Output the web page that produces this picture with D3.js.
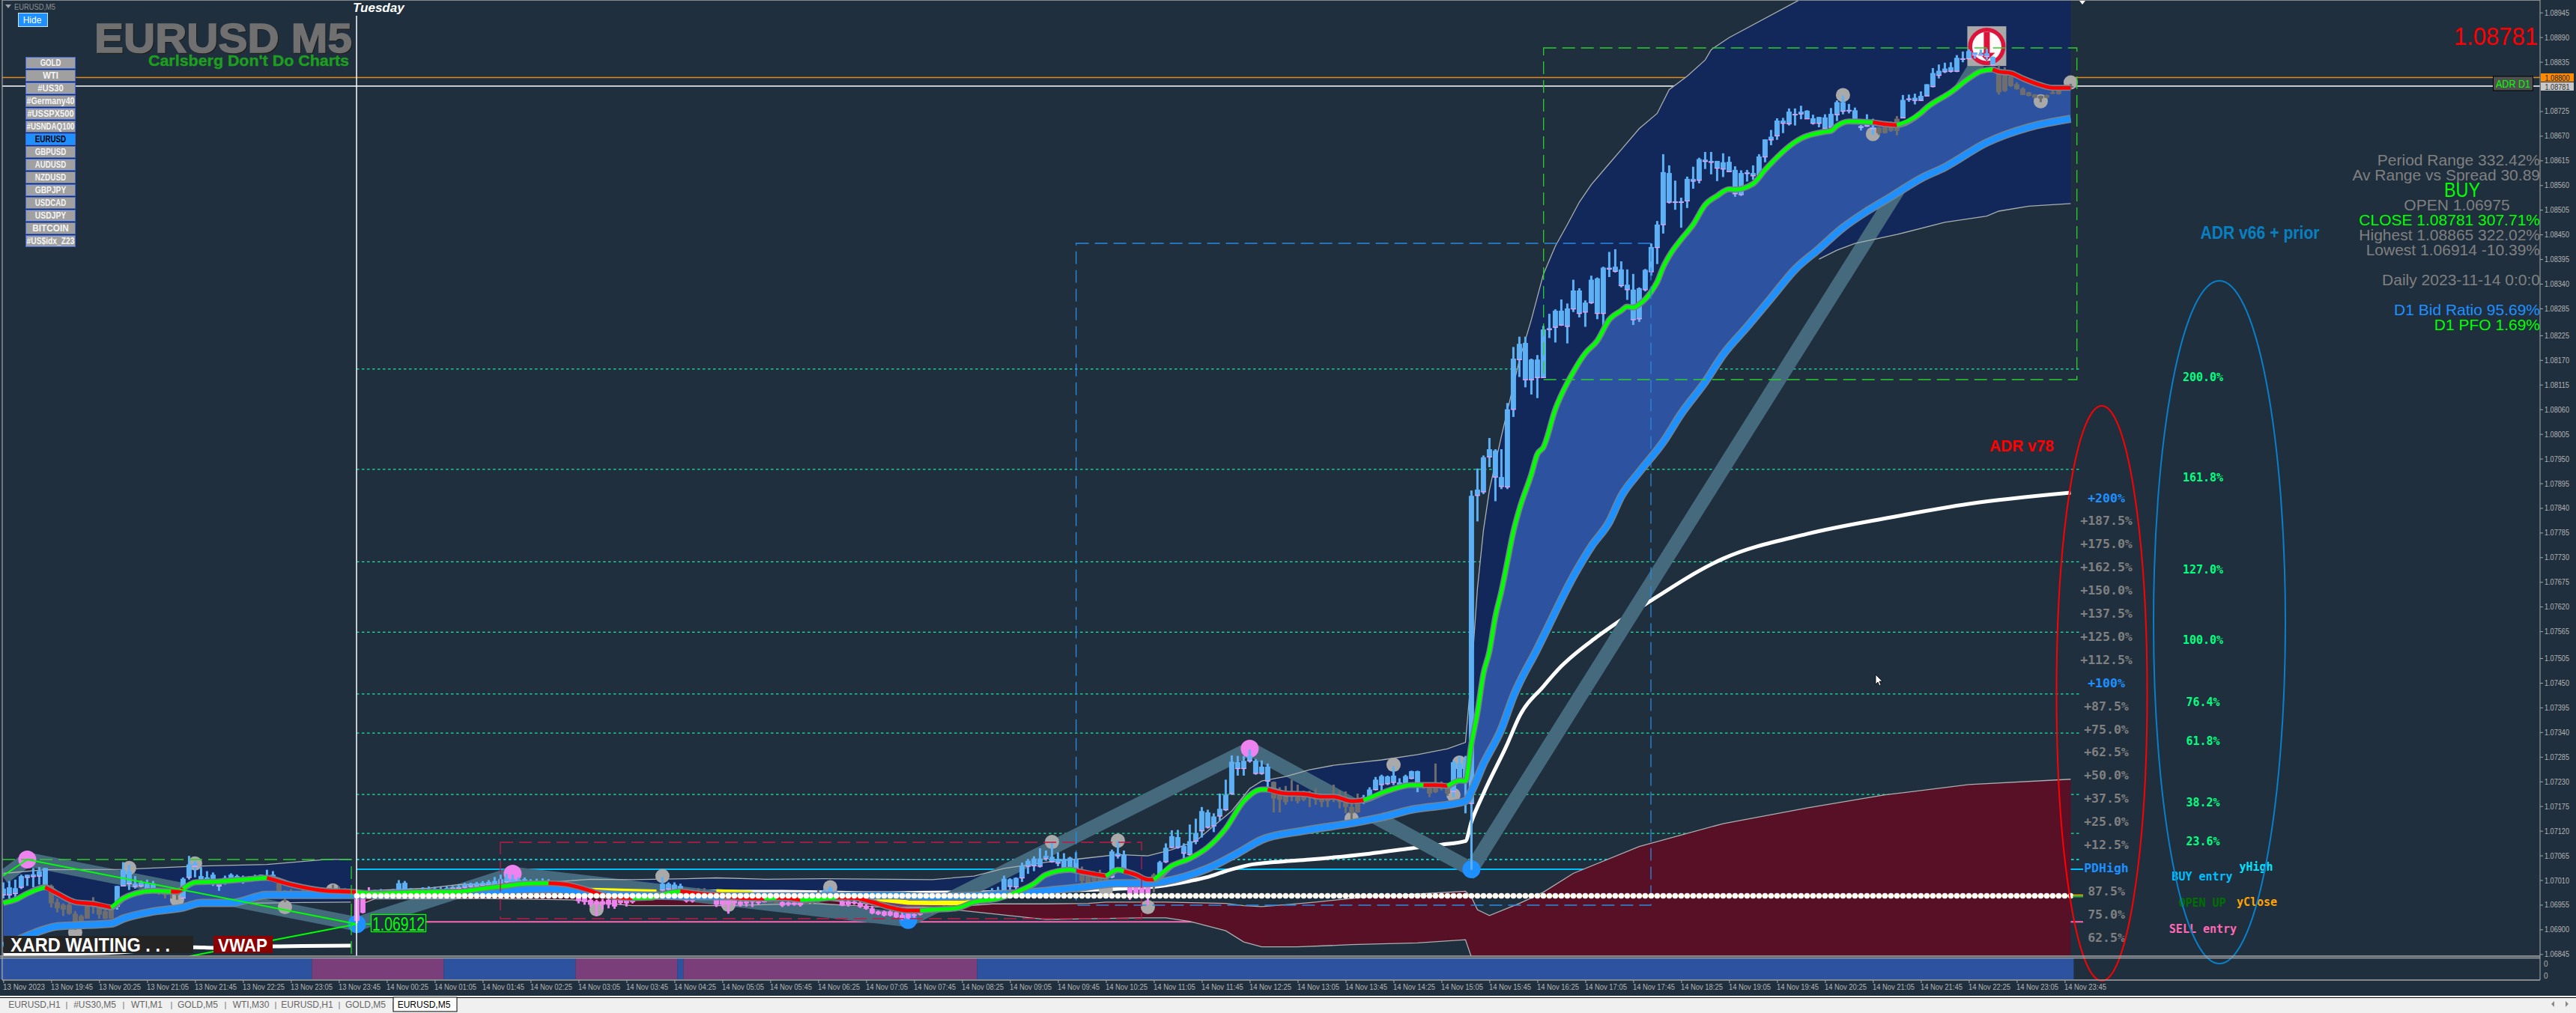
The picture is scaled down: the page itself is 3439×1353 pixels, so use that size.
<!DOCTYPE html>
<html><head><meta charset="utf-8">
<style>html,body{margin:0;padding:0;background:#1f2f3e;overflow:hidden}svg{display:block}text{font-family:"Liberation Sans",Arial,sans-serif}.mono{font-family:"DejaVu Sans Mono",monospace;font-weight:bold}</style>
<script src="https://cdnjs.cloudflare.com/ajax/libs/d3/7.8.5/d3.min.js"></script>
</head><body><svg id="c" width="3439" height="1353"></svg>
<script>
// All prices below are in points above 1.00000 (6912 means 1.06912). Bars are numbered from 13 Nov 19:05.
// Candles: [open, high, low, close]
const barsMonday=[[6977,7005,6969,6991],[6977,7008,6969,6994],[6980,7011,6972,6992],[6994,7022,6990,7019],[7016,7022,6997,7022],[7018,7037,6994,7023],[7019,7039,7000,7030],[6997,7037,6997,7037],
[6997,7000,6949,6958],[6961,6969,6938,6947],[6955,6958,6930,6944],[6955,6961,6933,6935],[6935,6941,6899,6916],[6930,6933,6913,6916],[6924,6955,6924,6952],[6952,6972,6935,6958],[6949,6952,6924,6933],[6941,6944,6923,6924],[6924,6947,6923,6944],
[6952,6997,6944,6997],[6997,7050,6997,7033],[7002,7044,6988,7030],[6996,7019,6991,7002],[6997,7009,6994,7005],[6988,7011,6987,7002],[6988,7008,6986,7002],
[6988,6990,6977,6980],[6986,6986,6969,6977],[6988,6994,6969,6983],[6983,6986,6966,6977],
[6970,7016,6969,7013],[7016,7064,7011,7045],[7041,7052,7016,7047],[7011,7039,7011,7019],[7011,7030,7008,7016],[7009,7027,6997,7022],[6997,7011,6986,7008],[7005,7020,7000,7015],[7011,7025,7005,7022],[7011,7022,7005,7019],[7011,7020,7002,7016],[7013,7019,7011,7017],[7015,7022,7009,7019],[7015,7022,7013,7022],[7013,7033,7011,7019],[7013,7030,7011,7022],
[7003,7005,6983,6986],[6986,6988,6961,6974],[6982,6990,6975,6978],[6978,6985,6972,6982],[6982,6988,6976,6979],[6979,6986,6974,6983],[6983,6990,6978,6980],[6980,6988,6976,6984],[6984,6992,6980,6986],[6986,7000,6982,6990],[6990,6996,6984,6986],[6986,6992,6980,6984],[6984,6990,6978,6980]];
const barsAsia=[[6969,6975,6914,6919],[6969,6972,6936,6937],[6975,6994,6972,6985],[6978,6988,6975,6984],[6984,6990,6978,6980],[6980,6986,6976,6984],[6984,6990,6980,6987],[6985,7010,6983,7003],[6985,7008,6983,7004],[6986,6992,6982,6985],
[6985,6990,6981,6988],[6987,6994,6983,6990],[6990,6996,6985,6987],[6986,6995,6984,6991],[6990,6994,6986,6988],[6988,6996,6985,6992],[6991,6997,6988,6994],[6992,6999,6989,6995],[6994,7004,6990,7000],[6996,7004,6992,7002],[6996,7006,6992,7003],[6998,7008,6994,7004],[6999,7010,6995,7006],[7000,7017,6996,7008],[7002,7022,6998,7012],[7006,7024,7000,7014],[7002,7022,6998,7012],[7003,7016,7000,7011],[7004,7016,7001,7012],[7004,7012,7001,7009],[7004,7013,7002,7008],[7005,7014,7002,7009],[7005,7012,7002,7008],
[6998,7004,6994,7000],[6994,7000,6990,6996],[6988,6994,6984,6990],[6978,6986,6972,6982],
[6975,6980,6958,6963],[6972,6975,6955,6961],[6966,6972,6950,6955],[6963,6966,6930,6955],[6963,6968,6945,6955],[6966,6970,6947,6955],[6966,6970,6946,6951],[6966,6970,6955,6959],[6964,6967,6951,6958],[6964,6966,6958,6961],
[6968,6975,6964,6970],[6970,6978,6966,6968],[6968,6976,6964,6972],[6972,6982,6968,6974],
[6988,7017,6985,7002],[6990,7005,6986,7002],[6990,7005,6987,7000],[6990,7002,6987,6997],
[6977,6982,6960,6963],[6977,6980,6960,6963],[6975,6992,6968,6970],[6975,6992,6968,6972],[6972,6978,6968,6974],
[6972,6976,6950,6955],[6966,6970,6950,6955],[6966,6968,6935,6955],[6966,6970,6952,6958],[6962,6966,6951,6955],[6963,6968,6951,6958],[6966,6968,6950,6961],[6962,6966,6955,6960],[6964,6966,6960,6962],
[6964,6968,6960,6962],[6962,6966,6958,6961],[6961,6963,6950,6953],[6960,6962,6952,6955],[6960,6962,6953,6955],[6960,6962,6951,6954],[6960,6966,6955,6958],[6960,6968,6956,6963],[6965,6988,6958,6962],
[6981,6990,6976,6986],[6981,6996,6976,6992],[6980,6986,6975,6983],
[6963,6966,6952,6953],[6963,6966,6951,6955],[6962,6965,6955,6958],[6959,6962,6948,6950],[6953,6956,6944,6946],[6947,6953,6934,6936],[6940,6942,6932,6934],[6940,6942,6929,6931],[6940,6942,6929,6931],[6938,6940,6925,6927],[6932,6938,6921,6924],[6935,6938,6923,6925],[6934,6936,6926,6930],[6937,6939,6931,6933],
[6940,6945,6935,6938],[6938,6945,6934,6942],[6942,6950,6938,6946],[6946,6970,6942,6950],[6950,6972,6946,6956],[6956,6972,6950,6960],[6960,6968,6956,6964],[6964,6972,6960,6968],[6968,6978,6964,6972],
[6967,6975,6964,6971],[6967,6975,6964,6971],[6977,6992,6974,6986],[6981,6995,6978,6988],[6983,7020,6980,7013],[6996,7014,6983,7012],[6995,7016,6982,7015],[7015,7049,7006,7042],[7041,7057,7024,7053],[7042,7063,7030,7058],[7041,7081,7038,7058],[7058,7076,7053,7064],[7051,7094,7049,7062],[7048,7072,7041,7057],[7037,7070,7035,7057],[7037,7062,7030,7060],[7037,7072,7030,7056]];
const barsLondon=[[7022,7040,7002,7008],[7019,7024,6998,7003],[7022,7030,7000,7008],[7019,7033,6998,7003],[7014,7020,6993,6997],
[7017,7078,7014,7074],[7064,7097,7058,7070],[7036,7076,7030,7067],
[7003,7010,6966,6978],[7003,7008,6975,6980],[6994,7000,6976,6978],[6994,6998,6955,6978],[7022,7025,6983,6997],
[7008,7053,7005,7050],[7051,7092,7048,7082],[7083,7121,7081,7108],[7083,7122,7080,7106],[7070,7092,7053,7086],[7067,7134,7053,7097],[7097,7147,7090,7115],[7120,7173,7105,7164],[7128,7167,7125,7161],[7131,7159,7117,7152],[7153,7203,7142,7169],[7167,7234,7164,7200],[7203,7288,7200,7274],[7259,7287,7243,7273],[7259,7287,7243,7276],[7276,7301,7272,7287],[7248,7280,7245,7276],[7248,7277,7245,7263],[7231,7270,7217,7263],
[7229,7230,7161,7192],[7203,7217,7161,7189],[7209,7220,7178,7184],[7209,7234,7186,7200],[7195,7223,7181,7186],[7195,7209,7186,7189],[7203,7209,7173,7195],[7195,7214,7178,7189],[7192,7200,7173,7184],[7195,7203,7173,7186],[7198,7223,7184,7192],[7195,7209,7170,7184],[7184,7208,7159,7173],[7173,7186,7145,7159],[7186,7203,7160,7161],
[7190,7200,7180,7195],[7195,7217,7190,7212],[7212,7240,7210,7234],[7223,7245,7209,7242],[7225,7243,7222,7241],[7228,7264,7222,7243],[7221,7237,7217,7228],[7223,7245,7221,7242],[7237,7254,7235,7253],[7228,7254,7206,7253],
[7225,7228,7214,7217],[7217,7225,7195,7203],[7217,7270,7204,7206],[7223,7230,7210,7214],[7220,7225,7198,7203],
[7208,7276,7195,7273],[7237,7285,7233,7270],[7231,7287,7159,7279]];
const barsNewYork=[[7181,7879,7033,7867],[7868,7928,7810,7881],[7876,7957,7871,7953],[7954,7996,7931,7971],[7909,7971,7855,7968],[7888,7971,7882,7909],
[7887,8074,7882,8060],[8060,8199,8043,8173],[8171,8222,8132,8206],[8126,8222,8109,8208],[8126,8173,8093,8171],[8131,8181,8085,8171],[8131,8246,8130,8238],[8238,8273,8219,8241],[8243,8283,8209,8280],[8248,8305,8246,8280],[8245,8296,8207,8285],[8284,8349,8277,8325],[8274,8330,8265,8325],[8277,8303,8244,8298],[8298,8358,8295,8349],[8274,8354,8261,8352],[8274,8378,8226,8376],[8373,8411,8355,8376],[8368,8417,8365,8378],[8336,8390,8332,8372],[8327,8372,8304,8338],[8260,8362,8248,8327],[8262,8332,8255,8330],[8327,8373,8323,8371],[8367,8430,8358,8422],[8421,8480,8384,8472],
[8472,8629,8452,8589],[8522,8604,8519,8587],[8522,8570,8505,8524],[8522,8532,8465,8524],[8525,8579,8509,8574],[8569,8601,8552,8574],[8571,8621,8564,8618],[8613,8634,8596,8617],[8611,8634,8584,8614],[8598,8614,8569,8614],[8596,8631,8578,8611],[8590,8624,8589,8612],[8541,8602,8534,8594],[8539,8593,8536,8587],[8586,8594,8568,8589],[8581,8604,8572,8587],[8583,8629,8580,8624],[8623,8662,8611,8662],[8661,8683,8649,8668],[8670,8709,8661,8704],[8698,8710,8676,8704],[8697,8731,8693,8724],[8717,8731,8693,8719],[8719,8737,8707,8724],[8708,8727,8708,8726],[8698,8717,8695,8709],[8698,8712,8689,8712],[8686,8718,8684,8711],[8689,8732,8688,8719],[8717,8749,8703,8745],[8725,8760,8718,8745],[8726,8741,8720,8728],[8705,8733,8703,8727],[8689,8694,8682,8692],[8692,8718,8690,8706],[8686,8708,8672,8689],
[8688,8690,8672,8676],[8689,8691,8675,8676],[8689,8702,8679,8681],[8708,8714,8671,8681],
[8710,8761,8709,8750],[8752,8762,8746,8753],[8749,8764,8740,8755],[8749,8769,8748,8759],[8759,8785,8758,8785],[8780,8821,8778,8810],[8805,8829,8798,8815],[8813,8833,8810,8820],[8814,8834,8811,8823],[8814,8850,8812,8844],[8841,8858,8834,8843],[8842,8863,8841,8859],[8850,8856,8842,8856],[8849,8862,8848,8853],[8847,8864,8840,8854],[8828,8847,8827,8846],
[8808,8827,8762,8767],[8806,8823,8768,8770],[8803,8805,8779,8781],[8785,8789,8773,8774],[8775,8778,8761,8761],[8767,8768,8758,8759],[8762,8763,8754,8755],[8759,8760,8745,8753],[8761,8762,8754,8755],[8767,8772,8763,8764],[8772,8773,8762,8763],[8781,8783,8774,8776],[8781,8786,8775,8781]];
// Candle regime per bar: starting bar of each run and its regime
const candleRunStart=[0,8,19,26,30,46,59,62,96,106,110,114,116,119,128,130,134,137,140,154,163,180,185,188,192,193,212,227,237,242,313,317,333];
const candleRunKind=["bull","flat","bull","flat","bull","flat","bear","bull","bear","flat","bull","bear","flat","bear","flat","bear","flat","bull","bear","flat","bull","flat","bull","bear","flat","bull","flat","bull","flat","bull","flat","bull","flat"];
// Lines as [bar, price]
const fastEma=[[0,6959],[2,6966],[4,6980],[7,6994],[9,6980],[12,6961],[15,6957],[18,6949],[20,6969],[22,6980],[25,6986],[29,6984],[30,6991],[32,7005],[36,7007],[40,7011],[44,7015],[48,7000],[54,6986],[58,6984],[62,6980],[69,6983],[76,6984],[80,6991],[84,6997],[87,7002],[91,7003],[94,7000],[98,6986],[100,6977],[103,6971],[105,6970],[108,6971],[111,6981],[113,6985],[116,6980],[119,6977],[123,6970],[127,6969],[129,6970],[130,6970],[133,6966],[137,6969],[139,6971],[142,6970],[145,6961],[148,6949],[151,6942],[153,6942],[155,6944],[159,6947],[162,6961],[166,6969],[169,6983],[172,7002],[174,7022],[178,7033],[180,7028],[184,7019],[186,7033],[189,7022],[191,7011],[192,7011],[195,7042],[198,7058],[201,7083],[204,7125],[207,7186],[210,7212],[211,7212],[214,7203],[217,7202],[220,7196],[222,7196],[225,7186],[227,7188],[231,7209],[235,7222],[239,7222],[241,7220],[243,7232],[244,7231],[245,7314],[246,7383],[247,7470],[248,7520],[249,7598],[250,7654],[251,7720],[252,7787],[253,7837],[255,7915],[256,7960],[257,7975],[259,8060],[262,8143],[264,8185],[266,8213],[268,8260],[270,8280],[271,8289],[272,8287],[273,8294],[275,8322],[276,8344],[277,8377],[278,8402],[280,8439],[282,8472],[284,8516],[286,8536],[288,8551],[289,8550],[292,8563],[294,8594],[299,8656],[300,8664],[304,8679],[305,8681],[306,8692],[308,8702],[312,8700],[314,8696],[316,8694],[320,8721],[321,8733],[325,8767],[328,8798],[330,8814],[332,8818],[333,8813],[335,8810],[337,8798],[340,8783],[342,8777],[345,8777]];
const trendRunStart=[0,7,18,28,30,44,59,91,105,113,127,129,133,139,153,179,184,187,192,211,227,237,241,312,316,332];
const slowEma=[[0,6862],[3,6880],[6,6896],[9,6907],[12,6909],[18,6913],[20,6924],[25,6940],[30,6949],[33,6959],[38,6959],[44,6977],[50,6977],[58,6977],[62,6977],[69,6979],[76,6981],[84,6987],[91,6990],[94,6988],[99,6980],[105,6976],[119,6974],[134,6974],[148,6976],[155,6973],[165,6977],[174,6986],[180,6994],[186,7003],[191,7003],[197,7017],[201,7036],[206,7070],[210,7100],[217,7120],[225,7137],[230,7150],[235,7167],[244,7186],[245,7208],[247,7269],[250,7347],[252,7420],[256,7526],[257,7553],[262,7687],[265,7754],[268,7809],[270,7866],[273,7920],[277,7987],[280,8050],[284,8121],[287,8182],[291,8244],[295,8308],[299,8372],[303,8418],[307,8465],[311,8502],[315,8534],[320,8575],[324,8600],[331,8655],[338,8689],[345,8708]];
const upperBandMonday=[[0,7025],[7,7033],[20,7034],[32,7041],[44,7045],[54,7056],[58,7056]];
const lowerBandMonday=[[38,6959],[44,6959],[50,6960],[58,6961]];
const upperBandTuesday=[[59,6985],[62,6987],[71,6992],[76,7000],[83,7001],[91,7005],[98,7012],[105,7011],[114,7013],[119,7015],[127,7012],[137,7013],[148,7012],[155,7011],[162,7019],[167,7036],[174,7050],[180,7058],[186,7067],[191,7064],[195,7078],[199,7097],[202,7131],[205,7164],[208,7214],[210,7231],[214,7241],[218,7256],[222,7266],[230,7278],[236,7290],[241,7303],[244,7317],[245,7470],[246,7660],[247,7790],[248,7880],[250,8000],[253,8170],[255,8260],[257,8361],[259,8424],[261,8472],[263,8522],[265,8561],[268,8608],[270,8639],[273,8686],[276,8720],[278,8773],[281,8803],[284,8839],[285,8862],[288,8889],[300,8975],[345,9100]];
const lowerBandTuesday=[[303,8395],[306,8415],[309,8430],[316,8450],[324,8477],[331,8491],[333,8502],[338,8513],[345,8519]];
const vwapMonday=[[0,6844],[9,6846],[18,6848],[32,6860],[35,6859],[45,6862],[50,6863],[58,6864]];
const vwapTuesday=[[59,6976],[70,6982],[90,6984],[110,6985],[130,6984],[148,6981],[165,6983],[180,6988],[191,6994],[198,7008],[201,7017],[204,7030],[208,7044],[212,7050],[218,7056],[228,7069],[235,7081],[240,7089],[244,7097],[245,7140],[247,7203],[251,7314],[253,7375],[257,7442],[260,7487],[266,7553],[274,7625],[287,7727],[301,7782],[315,7819],[328,7849],[345,7874]];
const maroonTop=[[60,6971],[62,6973],[80,6974],[95,6974],[105,6971],[120,6969],[135,6969],[150,6949],[158,6950],[165,6957],[174,6957],[181,6958],[184,6961],[194,6961],[204,6958],[207,6953],[210,6951],[214,6955],[219,6961],[227,6972],[244,6985],[245,6972],[246,6944],[248,6931],[253,6958],[257,6983],[262,7025],[273,7085],[287,7136],[301,7171],[314,7200],[328,7223],[345,7235]];
const maroonBottom=[[60,6958],[62,6968],[80,6969],[95,6966],[105,6953],[120,6953],[135,6958],[150,6947],[158,6945],[165,6935],[174,6922],[190,6926],[194,6926],[198,6918],[204,6897],[207,6872],[210,6861],[216,6861],[225,6866],[236,6870],[244,6877],[245,6838],[345,6838]];
const zigzag=[[0,7016],[4,7056],[59,6912],[85,7024],[151,6921],[208,7303],[245,7034],[331,8865]];
const zigzagThin=[[0,7020],[4,7056],[59,6912],[31,6840]];
const yellowMa=[[[98,6988],[109,6984]],[[119,6985],[125,6981]],[[143,6973],[147,6966],[151,6960],[155,6959],[160,6959],[162,6961]],[[187,7004],[191,7000]]];
const grayMarks=[[21,7037],[32,7047],[55,6987],[29,6966],[47,6950],[12,6893],[110,7019],[138,6994],[99,6945],[121,6955],[175,7095],[186,7098],[184,6988],[191,6950],[232,7267],[243,7272],[242,7200],[225,7147],[307,8761],[312,8674],[340,8747],[345,8789]];
const pinkMarks=[[4,7056],[85,7024],[208,7303]];
const blueMarks=[[59,6912],[151,6921],[245,7034]];
// Horizontal levels
const fibLevels=[8150,7926,7720,7563,7425,7338,7201,7114];
const fibLabels=["200.0%","161.8%","127.0%","100.0%","76.4%","61.8%","38.2%","23.6%"];
const yHigh=7056, pdHigh=7034, openLevel=6975, sellEntry=6917, orangeLevel=8800, bidLevel=8781;
const adrLabels=["+200%","+187.5%","+175.0%","+162.5%","+150.0%","+137.5%","+125.0%","+112.5%","+100%","+87.5%","+75.0%","+62.5%","+50.0%","+37.5%","+25.0%","+12.5%","PDHigh","87.5%","75.0%","62.5%","50.0%"];
const priceTicks=[8945,8890,8835,8725,8670,8615,8560,8505,8450,8395,8340,8285,8225,8170,8115,8060,8005,7950,7895,7840,7785,7730,7675,7620,7565,7505,7450,7395,7340,7285,7230,7175,7120,7065,7010,6955,6900,6845];
const timeTickLabels=["13 Nov 2023","13 Nov 19:45","13 Nov 20:25","13 Nov 21:05","13 Nov 21:45","13 Nov 22:25","13 Nov 23:05","13 Nov 23:45","14 Nov 00:25","14 Nov 01:05","14 Nov 01:45","14 Nov 02:25","14 Nov 03:05","14 Nov 03:45","14 Nov 04:25","14 Nov 05:05","14 Nov 05:45","14 Nov 06:25","14 Nov 07:05","14 Nov 07:45","14 Nov 08:25","14 Nov 09:05","14 Nov 09:45","14 Nov 10:25","14 Nov 11:05","14 Nov 11:45","14 Nov 12:25","14 Nov 13:05","14 Nov 13:45","14 Nov 14:25","14 Nov 15:05","14 Nov 15:45","14 Nov 16:25","14 Nov 17:05","14 Nov 17:45","14 Nov 18:25","14 Nov 19:05","14 Nov 19:45","14 Nov 20:25","14 Nov 21:05","14 Nov 21:45","14 Nov 22:25","14 Nov 23:05","14 Nov 23:45"];
const subRunStart=[0,52,74,96,113,114,163], subRunEnd=[52,74,96,113,114,163,346], subRunKind=["up","down","up","down","up","down","up"];
const symbols=["GOLD","WTI","#US30","#Germany40","#USSPX500","#USNDAQ100","EURUSD","GBPUSD","AUDUSD","NZDUSD","GBPJPY","USDCAD","USDJPY","BITCOIN","#US$idx_Z23"];
const tabNames=["EURUSD,H1","#US30,M5","WTI,M1","GOLD,M5","WTI,M30","EURUSD,H1","GOLD,M5","EURUSD,M5"];
const infoLines=["Period Range 332.42%","Av Range vs Spread 30.89","BUY","OPEN 1.06975","CLOSE 1.08781 307.71%","Highest 1.08865 322.02%","Lowest 1.06914 -10.39%","","Daily 2023-11-14 0:0:0","","D1 Bid Ratio 95.69%","D1 PFO 1.69%"];

const bars=barsMonday.concat(barsAsia,barsLondon,barsNewYork).map((d,i)=>({i,o:d[0],h:d[1],l:d[2],c:d[3]}));
const BG="#1f2f3e",NAVY="#12275a",MID="#2d529f",MAROON="#581027",SLATE="#456a7e",GRID="#aab0b0";
const svg=d3.select("#c");
const x=d3.scaleLinear().domain([0,344]).range([4.4,2756.4]);
const y=d3.scaleLinear().domain([6845,8945]).range([1274.3,16.7]);
const W=3439,H=1353,AX=3391,PB=1277;
svg.append("rect").attr("width",W).attr("height",H).attr("fill",BG);
svg.append("defs").append("clipPath").attr("id","plot").append("rect").attr("x",3).attr("y",1).attr("width",AX-3).attr("height",PB-1);
const g=svg.append("g").attr("clip-path","url(#plot)");
const line=d3.line().x(d=>x(d[0])).y(d=>y(d[1]));
const smooth=d3.line().x(d=>x(d[0])).y(d=>y(d[1])).curve(d3.curveMonotoneX);
function at(s,i){ if(i<=s[0][0])return s[0][1]; if(i>=s[s.length-1][0])return s[s.length-1][1];
  const k=d3.bisector(d=>d[0]).right(s,i); const a=s[k-1],b=s[k]; return a[1]+(b[1]-a[1])*(i-a[0])/(b[0]-a[0]); }
function band(sel,a,b,i0,i1,fill){ const ks=[...new Set([i0,i1,...a.map(d=>d[0]),...b.map(d=>d[0])])].filter(i=>i>=i0&&i<=i1).sort((p,q)=>p-q);
  sel.append("path").attr("d",d3.area().x(i=>x(i)).y0(i=>y(at(a,i))).y1(i=>y(at(b,i)))(ks)).attr("fill",fill); }
function hline(sel,p,x0,x1,col,w,dash){ sel.append("line").attr("x1",x0).attr("x2",x1).attr("y1",y(p)).attr("y2",y(p)).attr("stroke",col).attr("stroke-width",w).attr("stroke-dasharray",dash||null); }

// levels, behind every fill
hline(g,orangeLevel,3,AX,"#e08a20",1.5);
hline(g,bidLevel,3,AX,"#ffffff",1.5);
fibLevels.forEach(p=>hline(g,p,476,2777,"#20e8a0",1.3,"3.5 3.5"));
hline(g,yHigh,476,2777,"#00ffff",1.5,"3.5 3.5");
hline(g,pdHigh,476,2781,"#00bfff",2);
hline(g,sellEntry,569,2781,"#ff69b4",2);
svg.append("line").attr("x1",476).attr("x2",476).attr("y1",21).attr("y2",PB).attr("stroke","#ffffff").attr("stroke-width",1.5);

// navy bands
band(g,upperBandMonday,fastEma,0,58,NAVY);
band(g,lowerBandMonday,slowEma,38,58,NAVY);
band(g,upperBandTuesday,fastEma,59,345,NAVY);
band(g,lowerBandTuesday,slowEma,303,345,NAVY);
// maroon
band(g,maroonTop,maroonBottom,60,345,MAROON);
// vwap
[vwapMonday,vwapTuesday].forEach(s=>g.append("path").attr("d",smooth(s)).attr("fill","none").attr("stroke","#fff").attr("stroke-width",5));
// zigzag
g.append("path").attr("d",line(zigzag)).attr("fill","none").attr("stroke",SLATE).attr("stroke-width",19);
// mid fill
band(g,fastEma,slowEma,0,58,MID);
band(g,fastEma,slowEma,59,345,MID);
band(g,fastEma,slowEma,143,162,"#6e3f78");
// band edges
[upperBandMonday,lowerBandMonday,upperBandTuesday,lowerBandTuesday,maroonTop,maroonBottom].forEach(s=>g.append("path").attr("d",line(s)).attr("fill","none").attr("stroke",GRID).attr("stroke-width",1.3));

// round markers below candles
const mark=(arr,col,r)=>g.selectAll(null).data(arr).enter().append("circle").attr("cx",d=>x(d[0])).attr("cy",d=>y(d[1])).attr("r",r).attr("fill",col);
mark(grayMarks,"#a9a9a9",9.5); mark(pinkMarks,"#ee82ee",12); mark(blueMarks,"#1e90ff",12);

// sell icon
const ic=g.append("g");
const iconBar=331;
ic.append("rect").attr("x",x(iconBar)-26).attr("y",y(8865)-29.5).attr("width",52).attr("height",53).attr("fill","#a9a9a9");
ic.append("circle").attr("cx",x(iconBar)).attr("cy",y(8865)-2.5).attr("r",25).attr("fill","#dc143c");
ic.append("circle").attr("cx",x(iconBar)).attr("cy",y(8865)-2.5).attr("r",19.5).attr("fill","#fffafa");
ic.append("rect").attr("x",x(iconBar)-4).attr("y",y(8865)-22).attr("width",8).attr("height",30).attr("fill","#dc143c");
ic.append("path").attr("d",`M${x(iconBar)-11},${y(8865)+6}h22l-11,11z`).attr("fill","#dc143c");

// candles
const kindOf=i=>candleRunKind[d3.bisectRight(candleRunStart,i)-1];
const candleColor={bull:"#5eb0f5",flat:"#6e6e6e",bear:"#ee82ee"};
const cg=g.selectAll(null).data(bars).enter().append("g");
cg.append("rect").attr("x",d=>x(d.i)-1.5).attr("width",3).attr("y",d=>y(d.h)).attr("height",d=>Math.max(1,y(d.l)-y(d.h))).attr("fill",d=>candleColor[kindOf(d.i)]);
cg.append("rect").attr("x",d=>x(d.i)-3.5).attr("width",7).attr("y",d=>y(Math.max(d.o,d.c))).attr("height",d=>Math.max(2,Math.abs(y(d.o)-y(d.c)))).attr("fill",d=>candleColor[kindOf(d.i)]);
cg.filter(d=>kindOf(d.i)==="bull").append("rect").attr("x",d=>x(d.i)-3.5).attr("width",7).attr("y",d=>y(Math.min(d.o,d.c))-0.5).attr("height",1.2).attr("fill","#ff9cf0");

// moving averages
yellowMa.forEach(s=>g.append("path").attr("d",line(s)).attr("fill","none").attr("stroke","#ffff00").attr("stroke-width",6));
g.append("path").attr("d",smooth(slowEma)).attr("fill","none").attr("stroke","#75838f").attr("stroke-width",11);
g.append("path").attr("d",smooth(slowEma)).attr("fill","none").attr("stroke","#1e90ff").attr("stroke-width",8);
g.append("path").attr("d",smooth(fastEma)).attr("fill","none").attr("stroke","#75838f").attr("stroke-width",8);
trendRunStart.forEach((s,k)=>{ const e=k+1<trendRunStart.length?trendRunStart[k+1]:345;
  const pts=[[s,at(fastEma,s)],...fastEma.filter(d=>d[0]>s&&d[0]<e),[e,at(fastEma,e)]];
  g.append("path").attr("d",smooth(pts)).attr("fill","none").attr("stroke",k%2?"#ff0000":"#00ff00").attr("stroke-width",4.8); });
g.append("path").attr("d",line(zigzagThin)).attr("fill","none").attr("stroke","#00ff00").attr("stroke-width",2);

// dashed boxes
const box=(x0,y0,x1,y1,col)=>g.append("rect").attr("x",x0).attr("y",y0).attr("width",x1-x0).attr("height",y1-y0).attr("fill","none").attr("stroke",col).attr("stroke-width",1.3).attr("stroke-dasharray","17 8");
box(2060.7,64,2772.7,507,"#2ccf2c");
box(1436.6,325,2204,1209,"#2a8be0");
box(668,1125,1524,1227,"#c01a48");
g.append("path").attr("d",`M3,1148H469V1277`).attr("fill","none").attr("stroke","#2ccf2c").attr("stroke-width",1.3).attr("stroke-dasharray","17 8");

// open dots
hline(g,openLevel,476,2766,"#ffa500",3);
g.selectAll(null).data(d3.range(59,346)).enter().append("circle").attr("cx",i=>x(i)).attr("cy",y(openLevel)).attr("r",3.8).attr("fill","#fff");
hline(g,openLevel+1.5,2767,2781,"#ffd000",1.5); hline(g,openLevel-2,2767,2781,"#22cc22",1.5);

// labels in the plot
const lab=(sel,t,px,py,o)=>{o=o||{};const e=sel.append("text").text(t).attr("x",px).attr("y",py).attr("fill",o.fill||"#fff").attr("font-size",o.size||12).attr("font-weight",o.weight||null).attr("font-style",o.style||null).attr("text-anchor",o.anchor||"start").attr("dominant-baseline","central").attr("class",o.cls||null).attr("letter-spacing",o.ls||null);
  if(o.len)e.attr("textLength",o.len).attr("lengthAdjust","spacingAndGlyphs"); return e;};
// left boxes
svg.append("rect").attr("x",5).attr("y",1250).attr("width",253).attr("height",23).attr("fill","#242424");
lab(svg,"XARD WAITING . . .",14,1262,{size:26,weight:"bold",len:213});
svg.append("rect").attr("x",285).attr("y",1250).attr("width",79).attr("height",23).attr("fill","#8b0000");
lab(svg,"VWAP",324,1262,{size:24,weight:"bold",anchor:"middle",len:66});
svg.append("line").attr("x1",x(59)+12).attr("x2",495).attr("y1",y(6912)).attr("y2",y(6912)).attr("stroke","#00ff00").attr("stroke-width",1.5);
svg.append("rect").attr("x",495.5).attr("y",1221.5).attr("width",73).attr("height",23).attr("fill",BG).attr("stroke","#00ff00").attr("stroke-width",1.3);
lab(svg,"1.06912",532,1233.5,{fill:"#00ff00",size:26,anchor:"middle",len:70});
// ADR ladder
const ladderColor=t=>(t==="+200%"||t==="+100%"||t==="PDHigh")?"#1e90ff":"#808080";
const lg=g.append("g");
adrLabels.forEach((t,k)=>lab(lg,t,2812,665+30.9*k,{fill:ladderColor(t),size:16.5,anchor:"middle",cls:"mono"}));
fibLabels.forEach((t,k)=>lab(g,t,2941,y(fibLevels[k])+11,{fill:"#00ff7f",size:15,anchor:"middle",cls:"mono"}));
lab(g,"BUY entry",2940,1171,{fill:"#00bfff",size:15,anchor:"middle",cls:"mono"});
lab(g,"OPEN UP",2940,1206,{fill:"#007000",size:15,anchor:"middle",cls:"mono"});
lab(g,"SELL entry",2941,1241,{fill:"#ff69b4",size:15,anchor:"middle",cls:"mono"});
lab(g,"yHigh",3012,1158,{fill:"#00e5ff",size:15,anchor:"middle",cls:"mono"});
lab(g,"yClose",3013,1205,{fill:"#ffa500",size:15,anchor:"middle",cls:"mono"});
lab(svg,"ADR v78",2742,595,{fill:"#ff0000",size:22,weight:"bold",anchor:"end",len:86});
lab(svg,"ADR v66 + prior",3017,311,{fill:"#0a7fc0",size:23,weight:"bold",anchor:"middle",len:159});
// info block
const infoStyle=[{},{},{fill:"#00ff00",size:28,anchor:"middle",xx:3287,len:48},{anchor:"middle",xx:3280},{fill:"#00ff00"},{},{},{},{},{},{fill:"#1e90ff"},{fill:"#00ff00"}];
infoLines.forEach((t,k)=>{ if(!t)return; const s=infoStyle[k]; lab(svg,t,s.xx||3391,213+20*k,{fill:s.fill||"#808080",size:s.size||21,anchor:s.anchor||"end",len:s.len}); });
lab(svg,"1.08781",3388,48,{fill:"#ff0000",size:34,anchor:"end",len:112});

// ellipses
svg.append("ellipse").attr("cx",2806).attr("cy",926).attr("rx",60.5).attr("ry",384).attr("fill","none").attr("stroke","#ff0000").attr("stroke-width",2);
svg.append("ellipse").attr("cx",2963).attr("cy",831).attr("rx",88).attr("ry",456).attr("fill","none").attr("stroke","#0a7fc8").attr("stroke-width",2);
// cursor
svg.append("path").attr("d","M2504,901v13l3,-3l2,5l2,-1l-2,-5h4z").attr("fill","#fff").attr("stroke","#000").attr("stroke-width",.8);
// top triangle
svg.append("path").attr("d","M2776,1h8l-4,5z").attr("fill","#fff");

// sub window
const subColor={up:"#2d529f",down:"#7a3f7a"};
svg.selectAll(null).data(subRunStart).enter().append("rect").attr("x",s=>x(s)-4).attr("width",(s,k)=>x(subRunEnd[k])-x(s)).attr("y",1280).attr("height",28).attr("fill",(s,k)=>subColor[subRunKind[k]]);
lab(svg,"0",3396,1287,{fill:"#b0b0b0",size:10}); lab(svg,"0",3396,1303,{fill:"#b0b0b0",size:10});

// frame
const fr="#a8a8a8";
[[3,0,AX+0,0],[0,1277,AX,1277],[0,1279.5,AX,1279.5],[3,1309,AX,1309]].forEach(d=>svg.append("line").attr("x1",d[0]).attr("y1",d[1]).attr("x2",d[2]).attr("y2",d[3]).attr("stroke",fr).attr("stroke-width",1.4));
svg.append("line").attr("x1",3).attr("x2",3).attr("y1",0).attr("y2",1309).attr("stroke",fr).attr("stroke-width",1.2);

// axes
const yAxis=d3.axisRight(y).tickValues(priceTicks).tickSize(4).tickFormat(p=>(1+p/1e5).toFixed(5));
const ya=svg.append("g").attr("transform",`translate(${AX},0)`).call(yAxis);
ya.select(".domain").attr("d",`M0,0V1309`).attr("stroke",fr);
ya.selectAll("line").attr("stroke",fr);
ya.selectAll("text").attr("fill","#b4b4b4").attr("font-size",11).attr("x",6).attr("textLength",33).attr("lengthAdjust","spacingAndGlyphs");
const timeTicks=timeTickLabels.map((_,k)=>k*8);
const xAxis=d3.axisBottom(x).tickValues(timeTicks).tickSize(4).tickFormat((d,k)=>timeTickLabels[k]);
const xa=svg.append("g").attr("transform","translate(0,1309)").call(xAxis);
xa.select(".domain").remove();
xa.selectAll("line").attr("stroke",fr);
xa.selectAll("text").attr("fill","#b4b4b4").attr("font-size",11).attr("text-anchor","start").attr("x",-1).attr("y",5).attr("dy","0.71em").attr("textLength",56).attr("lengthAdjust","spacingAndGlyphs");

// price tags
svg.append("rect").attr("x",3328.5).attr("y",102).attr("width",53).attr("height",19).attr("fill","#505050").attr("stroke","#000");
lab(svg,"ADR D1",3355,111.5,{fill:"#00ff00",size:15,anchor:"middle",len:46});
svg.append("rect").attr("x",3392).attr("y",98).attr("width",44).attr("height",11).attr("fill","#ff8c00");
lab(svg,"1.08800",3414,104,{fill:"#222",size:10.5,anchor:"middle",len:33});
svg.append("rect").attr("x",3392).attr("y",110).attr("width",44).attr("height",11).attr("fill","#c8c8c8");
lab(svg,"1.08781",3414,116,{fill:"#333",size:10.5,anchor:"middle",len:33});

// top-left furniture
svg.append("path").attr("d","M7,6h8l-4,5z").attr("fill","#a0a0a0");
lab(svg,"EURUSD,M5",19,8.5,{fill:"#909090",size:11,len:55});
svg.append("rect").attr("x",24.5).attr("y",17.5).attr("width",39).attr("height",18).attr("fill","#1e90ff").attr("stroke","#cfe4ff");
lab(svg,"Hide",43,26.5,{size:12,anchor:"middle"});
lab(svg,"EURUSD M5",126,51,{fill:"#707070",size:55,weight:"bold",len:344}).attr("stroke","#707070").attr("stroke-width",1.6).style("filter","drop-shadow(1px 1px 0 #221a14)");
lab(svg,"Carlsberg Don't Do Charts",198,80,{fill:"#1e9e1e",size:21,weight:"bold",len:268}).attr("stroke","#1e9e1e").attr("stroke-width",.4);
lab(svg,"Tuesday",471,10,{size:17,weight:"bold",style:"italic"});
symbols.forEach((t,k)=>{ const on=t==="EURUSD"; const top=76.5+17*k;
  svg.append("rect").attr("x",34.5).attr("y",top).attr("width",66).attr("height",15).attr("fill",on?"#1e90ff":"#a0a0a0").attr("stroke","#4169e1");
  lab(svg,t,67.5,top+7.5,{fill:on?"#000":"#f4f4f4",size:12,anchor:"middle",weight:"bold",len:Math.min(64,t.length*6.9)}); });

// tab bar
svg.append("rect").attr("x",0).attr("y",1330).attr("width",W).attr("height",23).attr("fill","#f0f0f0");
svg.append("rect").attr("x",0).attr("y",1330).attr("width",W).attr("height",2).attr("fill","#fff");
svg.append("line").attr("x1",0).attr("x2",W).attr("y1",1332.5).attr("y2",1332.5).attr("stroke","#000");
const tabX=[46,126.5,196,264,335,410,488,566], tabSep=[89,165,229,301,368,453,525];
tabSep.forEach(s=>svg.append("line").attr("x1",s).attr("x2",s).attr("y1",1338).attr("y2",1348).attr("stroke","#777"));
svg.append("rect").attr("x",525).attr("y",1332).attr("width",85).attr("height",19).attr("fill","#fff").attr("stroke","#000");
tabNames.forEach((t,k)=>lab(svg,t,tabX[k],1342,{fill:k===7?"#000":"#666",size:12,anchor:"middle"}));
svg.append("path").attr("d","M3410,1337v8l-4,-4z").attr("fill","#888");
svg.append("path").attr("d","M3425,1337v8l4,-4z").attr("fill","#888");
</script></body></html>
